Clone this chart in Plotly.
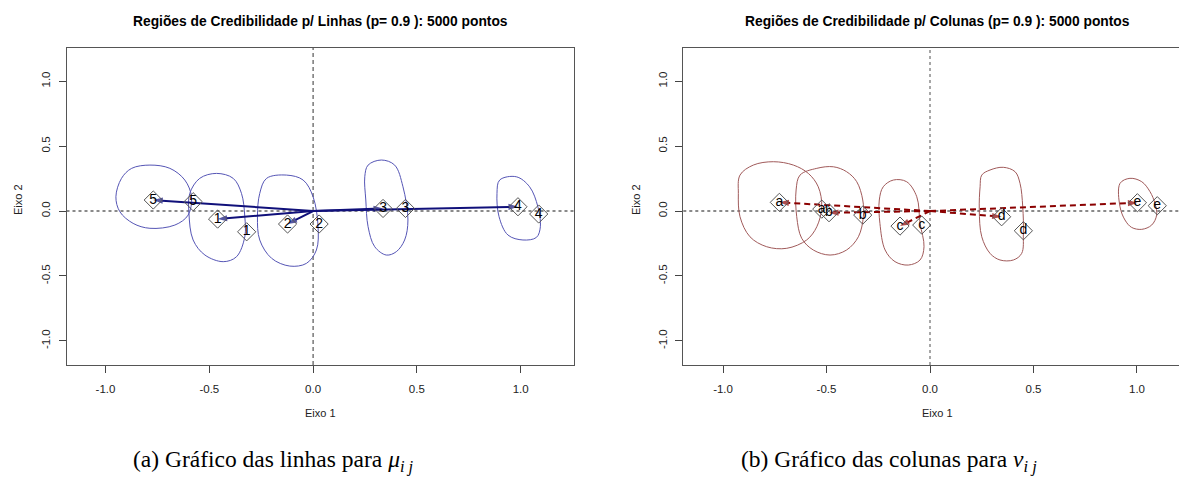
import plotly.graph_objects as go

# ---------------- data ----------------
row_labels = ["1", "2", "3", "4", "5"]
row_x1 = [-0.46, -0.123, 0.337, 0.987, -0.77]
row_y1 = [-0.062, -0.10, 0.02, 0.033, 0.085]
row_x2 = [-0.32, 0.029, 0.445, 1.087, -0.578]
row_y2 = [-0.16, -0.10, 0.02, -0.023, 0.072]

col_labels = ["a", "b", "c", "d", "e"]
col_x1 = [-0.728, -0.488, -0.145, 0.346, 1.002]
col_y1 = [0.067, -0.013, -0.116, -0.044, 0.064]
col_x2 = [-0.523, -0.325, -0.040, 0.451, 1.098]
col_y2 = [0.015, -0.031, -0.108, -0.152, 0.041]

# credibility region outlines (rows)
reg1_x = [-0.465, -0.385, -0.345, -0.329, -0.329, -0.369, -0.433, -0.521, -0.578, -0.598, -0.594, -0.546]
reg1_y = [0.290, 0.252, 0.136, -0.044, -0.198, -0.352, -0.390, -0.339, -0.223, -0.018, 0.136, 0.252]
reg2_x = [-0.224, -0.128, -0.048, 0.0, 0.024, 0.016, -0.032, -0.112, -0.200, -0.257, -0.268, -0.257]
reg2_y = [0.252, 0.277, 0.239, 0.110, -0.121, -0.300, -0.403, -0.424, -0.364, -0.223, -0.044, 0.136]
reg3_x = [0.265, 0.329, 0.393, 0.433, 0.457, 0.441, 0.401, 0.353, 0.297, 0.265, 0.254, 0.249]
reg3_y = [0.354, 0.393, 0.354, 0.187, -0.069, -0.223, -0.313, -0.339, -0.275, -0.121, 0.085, 0.264]
reg4_x = [0.899, 0.979, 1.043, 1.083, 1.095, 1.076, 1.011, 0.939, 0.896, 0.886]
reg4_y = [0.239, 0.264, 0.187, 0.033, -0.121, -0.203, -0.223, -0.185, -0.044, 0.136]
reg5_x = [-0.874, -0.786, -0.690, -0.618, -0.586, -0.602, -0.666, -0.786, -0.867, -0.931, -0.950, -0.923]
reg5_y = [0.329, 0.354, 0.329, 0.239, 0.110, -0.031, -0.108, -0.133, -0.095, -0.005, 0.110, 0.252]

# credibility region outlines (columns)
rega_x = [-0.918, -0.854, -0.757, -0.660, -0.588, -0.540, -0.523, -0.547, -0.596, -0.692, -0.789, -0.870, -0.918, -0.926]
rega_y = [0.277, 0.354, 0.380, 0.354, 0.290, 0.187, 0.033, -0.121, -0.223, -0.287, -0.275, -0.198, -0.044, 0.136]
regb_x = [-0.628, -0.547, -0.467, -0.403, -0.354, -0.325, -0.322, -0.346, -0.403, -0.483, -0.564, -0.620, -0.644, -0.647]
regb_y = [0.277, 0.329, 0.341, 0.303, 0.226, 0.085, -0.044, -0.198, -0.300, -0.339, -0.300, -0.210, -0.044, 0.162]
regc_x = [-0.226, -0.177, -0.113, -0.064, -0.048, -0.029, -0.048, -0.105, -0.169, -0.217, -0.242, -0.245]
regc_y = [0.187, 0.239, 0.226, 0.110, -0.095, -0.275, -0.377, -0.416, -0.390, -0.300, -0.095, 0.085]
regd_x = [0.250, 0.290, 0.354, 0.411, 0.435, 0.448, 0.451, 0.443, 0.403, 0.338, 0.290, 0.250, 0.238, 0.242]
regd_y = [0.277, 0.316, 0.337, 0.303, 0.213, 0.033, -0.172, -0.326, -0.377, -0.377, -0.326, -0.198, 0.008, 0.187]
rege_x = [0.918, 0.966, 1.023, 1.063, 1.087, 1.095, 1.071, 1.023, 0.974, 0.942, 0.918]
rege_y = [0.213, 0.252, 0.226, 0.149, 0.059, -0.031, -0.108, -0.141, -0.126, -0.069, 0.033]

tick_vals = [-1.0, -0.5, 0.0, 0.5, 1.0]
tick_text = ["-1.0", "-0.5", "0.0", "0.5", "1.0"]

title_left = "Regiões de Credibilidade p/ Linhas (p= 0.9 ): 5000 pontos"
title_right = "Regiões de Credibilidade p/ Colunas (p= 0.9 ): 5000 pontos"
caption_left = "(a) Gráfico das linhas para <i>μ</i><sub><i>i j</i></sub>"
caption_right = "(b) Gráfico das colunas para <i>ν</i><sub><i>i j</i></sub>"

# ---------------- styles ----------------
ROW_REG = "#5555b5"
ROW_ARR = "#10107a"
COL_REG = "#a05a5a"
COL_ARR = "#8b0000"
FONT = "Liberation Sans, Arial, sans-serif"
SERIF = "Liberation Serif, Times New Roman, serif"

fig = go.Figure()


def closed(a):
    return list(a) + [a[0]]


def add_panel(xa, ya, regions, color_reg, color_arr, dash, labels, x1, y1, x2, y2):
    for rx, ry in regions:
        fig.add_trace(go.Scatter(x=closed(rx), y=closed(ry), mode="lines",
                                 line=dict(color=color_reg, width=1, shape="spline", smoothing=1.0),
                                 xaxis=xa, yaxis=ya, hoverinfo="skip", showlegend=False))
    for xt, yt in zip(x1, y1):
        fig.add_trace(go.Scatter(x=[0, xt], y=[0, yt], mode="lines+markers",
                                 line=dict(color=color_arr, width=2, dash=dash),
                                 marker=dict(symbol=["circle", "arrow"], size=[1, 10],
                                             angleref="previous", color=color_arr,
                                             line=dict(width=0)),
                                 xaxis=xa, yaxis=ya, hoverinfo="skip", showlegend=False))
    fig.add_trace(go.Scatter(x=list(x1) + list(x2), y=list(y1) + list(y2),
                             mode="markers+text", text=list(labels) + list(labels),
                             textposition="middle center",
                             textfont=dict(family=FONT, size=14, color="black"),
                             marker=dict(symbol="diamond-open", size=14, color="#555555",
                                         line=dict(width=1, color="#555555")),
                             xaxis=xa, yaxis=ya, hoverinfo="skip", showlegend=False))


add_panel("x", "y",
          [(reg1_x, reg1_y), (reg2_x, reg2_y), (reg3_x, reg3_y), (reg4_x, reg4_y), (reg5_x, reg5_y)],
          ROW_REG, ROW_ARR, "solid", row_labels, row_x1, row_y1, row_x2, row_y2)
add_panel("x2", "y2",
          [(rega_x, rega_y), (regb_x, regb_y), (regc_x, regc_y), (regd_x, regd_y), (rege_x, rege_y)],
          COL_REG, COL_ARR, "6px,4px", col_labels, col_x1, col_y1, col_x2, col_y2)

W, H = 1179, 479
y_dom = [1 - 365 / H, 1 - 48 / H]

axis_common = dict(showgrid=False, zeroline=False, ticks="outside", ticklen=7, tickwidth=1,
                   tickcolor="#444", tickfont=dict(family=FONT, size=11.5, color="#222"),
                   tickvals=tick_vals, ticktext=tick_text, showline=True, linecolor="#555",
                   linewidth=1)

fig.update_layout(
    width=W, height=H, margin=dict(l=0, r=0, t=0, b=0),
    paper_bgcolor="white", plot_bgcolor="white",
    xaxis=dict(domain=[66.5 / W, 574 / W], range=[-1.188, 1.257], anchor="y", mirror=True,
               ticklabelstandoff=6, **axis_common),
    yaxis=dict(domain=y_dom, range=[-1.186, 1.256], anchor="x", mirror=True, tickangle=-90,
               ticklabelstandoff=4, **axis_common),
    xaxis2=dict(domain=[683.3 / W, 1.0], range=[-1.192, 1.203], anchor="y2", mirror=True,
                ticklabelstandoff=6, **axis_common),
    yaxis2=dict(domain=y_dom, range=[-1.186, 1.256], anchor="x2", mirror=False, tickangle=-90,
                ticklabelstandoff=4, **axis_common),
)

# reference lines
fig.add_shape(type="line", xref="x domain", yref="y", x0=0, x1=1, y0=0, y1=0,
              line=dict(color="#8a8a8a", width=2, dash="dot"), layer="below")
fig.add_shape(type="line", xref="x", yref="y domain", x0=0, x1=0, y0=0, y1=1,
              line=dict(color="#333", width=1, dash="4px,3px"), layer="below")
fig.add_shape(type="line", xref="x2 domain", yref="y2", x0=0, x1=1, y0=0, y1=0,
              line=dict(color="#8a8a8a", width=2, dash="dot"), layer="below")
fig.add_shape(type="line", xref="x2", yref="y2 domain", x0=0, x1=0, y0=0, y1=1,
              line=dict(color="#8a8a8a", width=1.5, dash="dot"), layer="below")


def txt(text, x, y, size, family=FONT, color="black", angle=0, xanchor="center"):
    return dict(text=text, x=x / W, y=1 - y / H, xref="paper", yref="paper",
                xanchor=xanchor, yanchor="middle", textangle=angle, showarrow=False,
                font=dict(family=family, size=size, color=color))


ann = [
    txt("<b>" + title_left + "</b>", 320, 21.5, 13.8),
    txt("<b>" + title_right + "</b>", 937, 21.5, 13.8),
    txt("Eixo 1", 320, 413, 11, color="#222"),
    txt("Eixo 1", 937, 413, 11, color="#222"),
    txt("Eixo 2", 18, 200, 11, color="#222", angle=-90),
    txt("Eixo 2", 636, 200, 11, color="#222", angle=-90),
    txt(caption_left, 131, 461, 23.5, family=SERIF, xanchor="left"),
    txt(caption_right, 739, 461, 23.5, family=SERIF, xanchor="left"),
]
fig.update_layout(annotations=ann)

fig.write_html("out.html")
